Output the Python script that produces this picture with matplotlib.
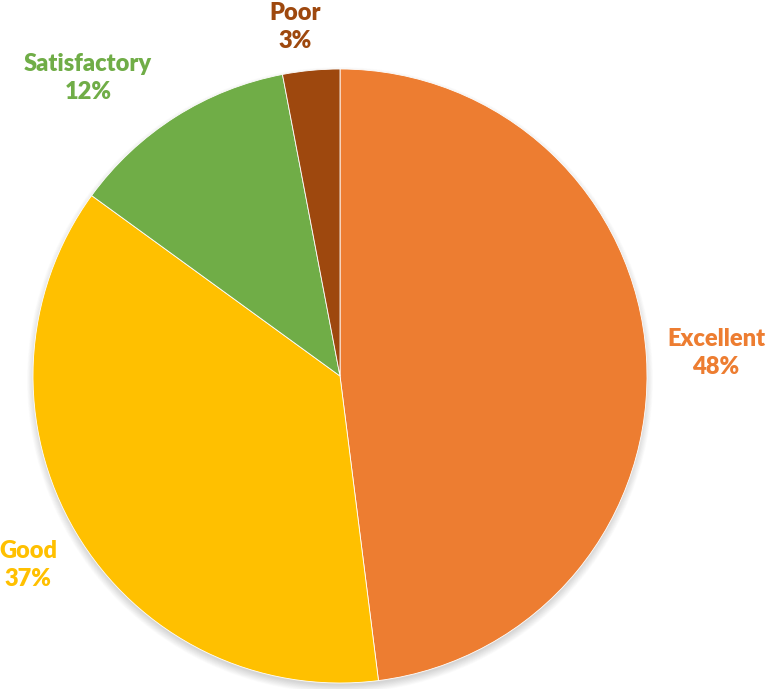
import matplotlib
matplotlib.use("Agg")
import matplotlib.pyplot as plt
from matplotlib.patches import Circle
import numpy as np

categories = ["Excellent", "Good", "Satisfactory", "Poor"]
shares = [48, 37, 12, 3]
colors = ["#ED7D31", "#FFC000", "#70AD47", "#9E480E"]

W, H = 769, 689
fig = plt.figure(figsize=(W / 100, H / 100), dpi=100)
ax = fig.add_axes([0, 0, 1, 1])

cx, cy, r = 340, H - 376, 307

# soft drop shadow under the pie
for i in range(14):
    ax.add_patch(Circle((cx, cy - 4), r + 6 - i * 0.6, color="black",
                        alpha=0.012, lw=0, zorder=0))

wedges, _ = ax.pie(shares, colors=colors, startangle=90, counterclock=False,
                   center=(cx, cy), radius=r, frame=True,
                   wedgeprops=dict(edgecolor="white", linewidth=0.6))
ax.set_xlim(0, W)
ax.set_ylim(0, H)
ax.set_aspect("equal")
ax.axis("off")

# label anchor points (pixel layout, y from top)
label_pos = {
    "Excellent": (716, 353),
    "Good": (28, 565),
    "Satisfactory": (88, 78),
    "Poor": (295, 27),
}
for cat, val, col in zip(categories, shares, colors):
    x, y = label_pos[cat]
    ax.text(x, H - y, f"{cat}\n{val}%", color=col, ha="center", va="center",
            fontsize=17, fontweight="heavy", family=["Lato", "DejaVu Sans"],
            linespacing=1.3)

fig.savefig("out.png", dpi=100, facecolor="white")
